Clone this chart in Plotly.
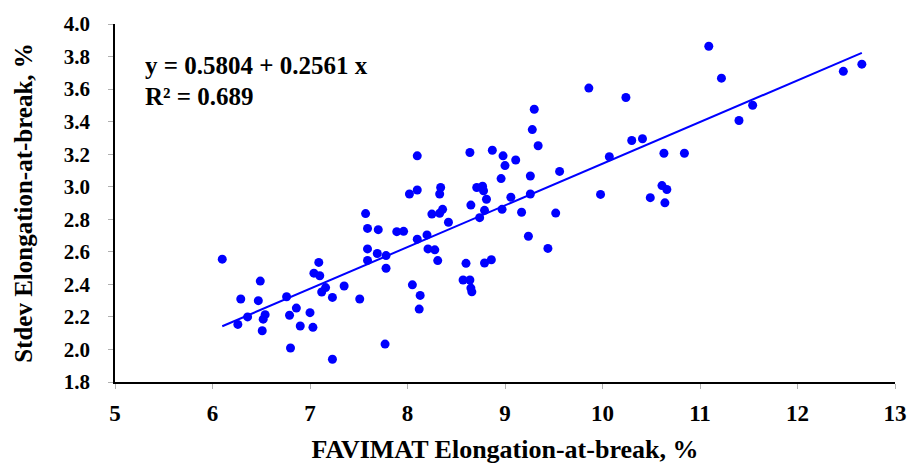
import plotly.graph_objects as go

# FAVIMAT elongation-at-break (%) vs. its standard deviation (%)
favimat_elong = [
    6.10, 6.26, 6.29, 6.36, 6.49, 6.47, 6.51, 6.52, 6.54, 6.76,
    6.80, 6.79, 6.86, 6.90, 7.00, 7.03, 7.04, 7.09, 7.10, 7.12,
    7.16, 7.23, 7.23, 7.35, 7.51, 7.59, 7.59, 7.69, 7.78, 7.78,
    7.77, 8.05, 8.10, 8.10, 8.02, 8.10, 8.34, 8.33, 8.64, 8.87,
    8.98, 9.00, 9.11, 9.34, 9.26, 9.56, 8.96, 8.71, 8.77, 8.78,
    8.81, 8.65, 9.06, 9.26, 8.25, 8.33, 8.36, 8.42, 8.79, 8.74,
    8.97, 9.17, 9.52, 7.89, 7.96, 8.20, 8.21, 8.28, 8.31, 8.60,
    8.57, 8.64, 8.65, 8.66, 8.79, 8.86, 9.24, 9.44, 8.13, 8.12,
    9.86, 10.24, 11.09, 11.22, 11.54, 11.40, 12.47, 12.66, 10.30, 10.41,
    10.07, 9.98, 10.63, 10.84, 10.61, 10.66, 10.49, 10.64, 7.57, 7.59,
    7.70, 9.30, 9.28,
]
stdev_elong = [
    2.555, 2.154, 2.310, 2.200, 2.420, 2.300, 2.115, 2.186, 2.214, 2.324,
    2.009, 2.210, 2.254, 2.144, 2.226, 2.136, 2.469, 2.535, 2.453, 2.353,
    2.380, 1.940, 2.320, 2.390, 2.310, 2.618, 2.547, 2.590, 2.577, 2.499,
    2.033, 2.397, 2.678, 3.190, 2.955, 2.980, 2.995, 2.955, 3.210, 3.224,
    3.190, 3.130, 3.164, 3.252, 3.066, 3.094, 3.050, 2.995, 3.003, 2.975,
    2.923, 2.887, 2.935, 2.955, 2.832, 2.837, 2.861, 2.782, 2.855, 2.810,
    2.861, 2.843, 2.838, 2.724, 2.726, 2.704, 2.618, 2.612, 2.546, 2.529,
    2.427, 2.427, 2.377, 2.354, 2.531, 2.551, 2.696, 2.621, 2.332, 2.248,
    3.606, 3.548, 3.863, 3.667, 3.501, 3.407, 3.709, 3.753, 3.284, 3.295,
    3.184, 2.953, 3.206, 3.206, 3.007, 2.983, 2.933, 2.901, 2.835, 2.744,
    2.736, 3.476, 3.351,
]

# Linear fit coefficients
intercept = 0.5804
slope = 0.2561
r_squared = 0.689

x_fit = [min(favimat_elong), max(favimat_elong)]
y_fit = [intercept + slope * v for v in x_fit]

FONT = "Liberation Serif"

fig = go.Figure()
fig.add_trace(go.Scatter(
    x=favimat_elong, y=stdev_elong, mode="markers",
    marker=dict(color="#0000FF", size=9, line=dict(width=0)),
    showlegend=False, hoverinfo="skip",
))
fig.add_trace(go.Scatter(
    x=x_fit, y=y_fit, mode="lines",
    line=dict(color="#0000FF", width=2),
    showlegend=False, hoverinfo="skip",
))

fig.add_annotation(
    x=5.284, y=3.747, xref="x", yref="y", xanchor="left", yanchor="middle",
    text=f"y = {intercept:.4f} + {slope:.4f} x", showarrow=False,
    font=dict(family=FONT, size=25, color="black", weight="bold"),
)
fig.add_annotation(
    x=5.284, y=3.554, xref="x", yref="y", xanchor="left", yanchor="middle",
    text=f"R² = {r_squared:.3f}", showarrow=False,
    font=dict(family=FONT, size=25, color="black", weight="bold"),
)

fig.update_layout(
    width=919, height=471,
    margin=dict(l=115, r=17, t=18, b=88),
    paper_bgcolor="white", plot_bgcolor="white",
    font=dict(family=FONT, color="black", weight="bold"),
)
fig.update_xaxes(
    range=[5, 13], dtick=1, tick0=5,
    showgrid=False, zeroline=False,
    showline=True, linecolor="black", linewidth=1.5,
    ticks="outside", ticklen=5, tickcolor="#b0b0b0", tickwidth=1,
    ticklabelstandoff=5,
    tickfont=dict(family=FONT, size=23, color="black", weight="bold"),
    title=dict(text="FAVIMAT Elongation-at-break, %", standoff=14,
               font=dict(family=FONT, size=26, color="black", weight="bold")),
)
fig.update_yaxes(
    range=[1.8, 4.0], dtick=0.2, tick0=1.8, tickformat=".1f",
    showgrid=False, zeroline=False,
    showline=True, linecolor="black", linewidth=1.5,
    ticks="outside", ticklen=5, tickcolor="#b0b0b0", tickwidth=1,
    ticklabelstandoff=14,
    tickfont=dict(family=FONT, size=21, color="black", weight="bold"),
    title=dict(text="Stdev Elongation-at-break, %", standoff=24,
               font=dict(family=FONT, size=25, color="black", weight="bold")),
)

fig.write_html("out.html")
